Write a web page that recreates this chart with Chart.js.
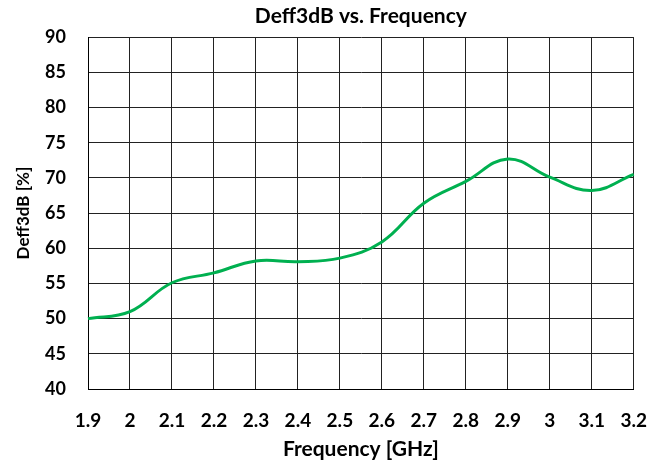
<!DOCTYPE html>
<html>
<head>
<meta charset="utf-8">
<script src="https://cdn.jsdelivr.net/npm/chart.js@4"></script>
<style>
  html, body { margin: 0; padding: 0; background: #fff; }
  #wrap { width: 667px; height: 466px; }
</style>
</head>
<body>
<div id="wrap"><canvas id="myChart" width="667" height="466"></canvas></div>
<script>
// frequency points [GHz] and Deff3dB values [%]
const freqLabels = ["1.9", "2", "2.1", "2.2", "2.3", "2.4", "2.5", "2.6", "2.7", "2.8", "2.9", "3", "3.1", "3.2"];
const deffValues = [50.0, 51.0, 55.1, 56.5, 58.2, 58.1, 58.6, 60.9, 66.4, 69.5, 72.7, 70.1, 68.2, 70.5];
const yMin = 40;
const yMax = 90;
const yStep = 5;

const font = "Lato, 'Liberation Sans', sans-serif";
const gridColor = "#222";

const chart = new Chart(document.getElementById("myChart"), {
  type: "line",
  data: {
    labels: freqLabels,
    datasets: [
      {
        label: "Deff3dB",
        data: deffValues,
        borderColor: "#00b050",
        borderWidth: 3,
        pointRadius: 0,
        tension: 0.4,
        fill: false,
      },
    ],
  },
  options: {
    responsive: false,
    animation: false,
    layout: { padding: { left: 0, right: 32, top: 0, bottom: 0 } },
    plugins: {
      legend: { display: false },
      tooltip: { enabled: false },
      title: {
        display: true,
        text: "Deff3dB vs. Frequency",
        fullSize: false,
        color: "#000",
        font: { family: font, size: 21, weight: "bold" },
        padding: { top: 4, bottom: 8 },
      },
    },
    scales: {
      x: {
        type: "category",
        offset: false,
        afterFit: (s) => { s.height = 77; },
        grid: { color: gridColor, lineWidth: 1, drawTicks: false },
        border: { color: "#000", width: 1 },
        ticks: {
          color: "#000",
          padding: 20,
          maxRotation: 0,
          autoSkip: false,
          font: { family: font, size: 19, weight: "bold" },
        },
        title: {
          display: true,
          text: "Frequency [GHz]",
          color: "#000",
          font: { family: font, size: 21, weight: "bold" },
          padding: { top: 0, bottom: 4 },
        },
      },
      y: {
        min: yMin,
        max: yMax,
        afterFit: (s) => { s.width = 88; },
        grid: { color: gridColor, lineWidth: 1, drawTicks: false },
        border: { color: "#000", width: 1 },
        ticks: {
          stepSize: yStep,
          color: "#000",
          padding: 22,
          font: { family: font, size: 18, weight: "bold" },
        },
        title: {
          display: true,
          text: "Deff3dB [%]",
          color: "#000",
          font: { family: font, size: 17, weight: "bold" },
          padding: { top: 13, bottom: 0 },
        },
      },
    },
  },
});
</script>
</body>
</html>
